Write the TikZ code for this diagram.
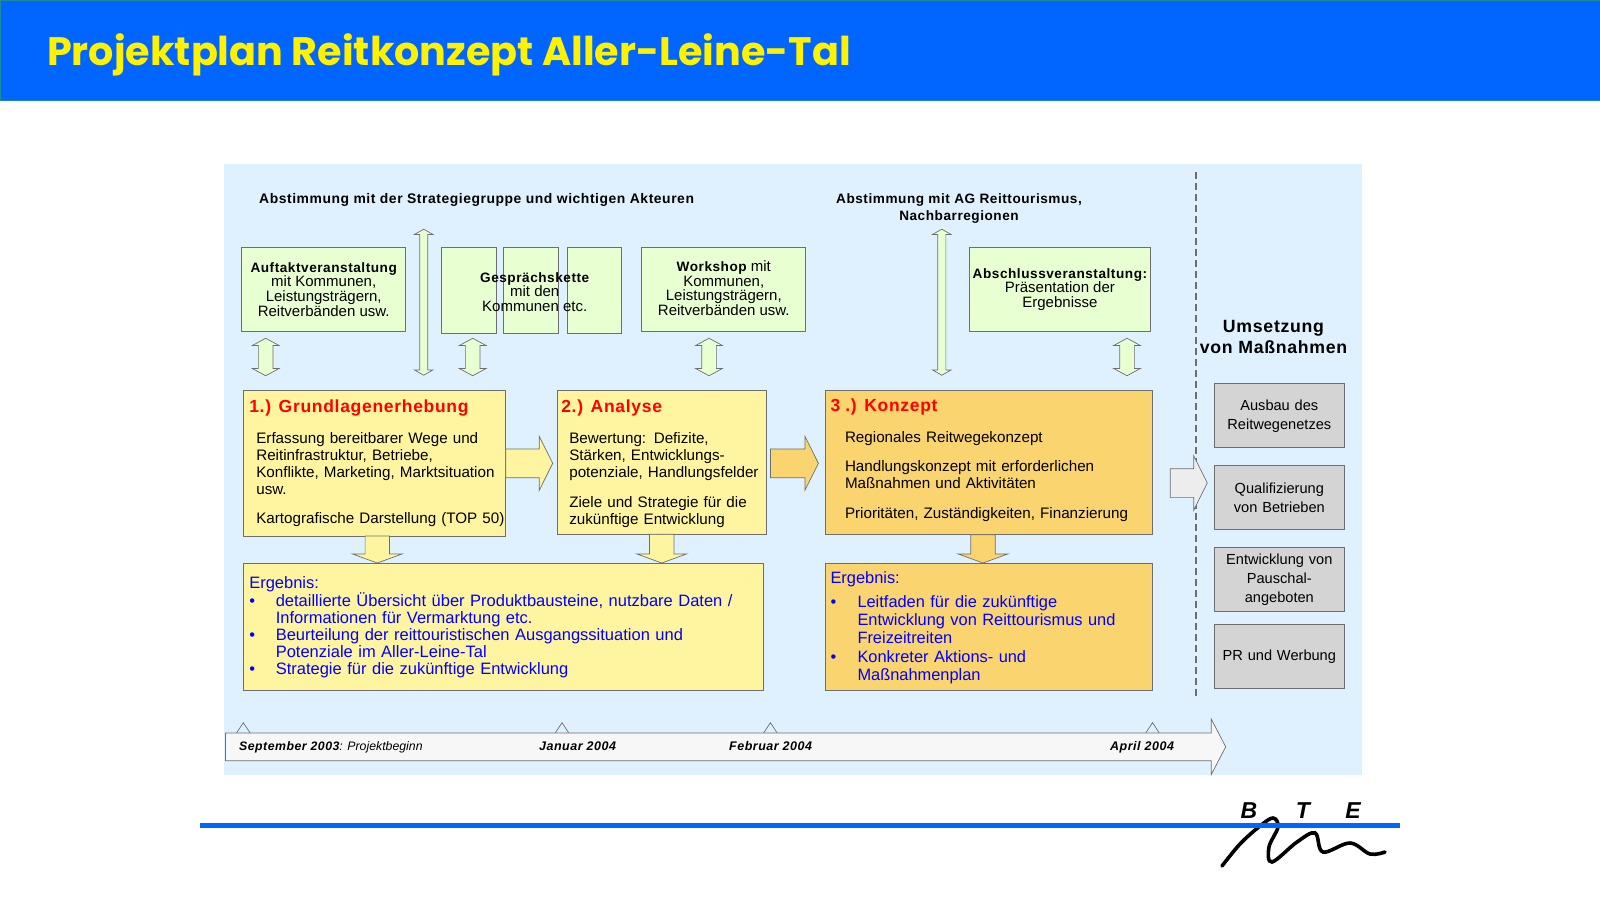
\documentclass[tikz,border=0pt]{standalone}
\usepackage{fontspec}
\setmainfont{Liberation Sans}[BoldFeatures={LetterSpace=4},BoldItalicFeatures={LetterSpace=4}]
\newfontfamily\titelfont{Poppins}
\usetikzlibrary{shapes.arrows, arrows.meta, positioning, calc}
\definecolor{colorKopf}{HTML}{0066FF}
\definecolor{colorKante}{HTML}{1E8C96}
\definecolor{colorFlaeche}{HTML}{DFF1FF}
\definecolor{colorGruen}{HTML}{E8FFD2}
\definecolor{colorGelb}{HTML}{FFF5A0}
\definecolor{colorOrange}{HTML}{FAD46E}
\definecolor{colorGrau}{HTML}{D4D4D4}
\definecolor{colorRand}{HTML}{6E6E6E}
\newcommand{\fs}[2]{\fontsize{#1}{#2}\selectfont}
\newcommand{\titel}[2]{\hspace*{#1}{\fs{17.5}{17}\bfseries\color{red}#2}}
\newcommand{\fett}[1]{{\fs{13.6}{14.8}\bfseries #1}}
\newcommand{\punkt}[1]{\makebox[#1][l]{\textbullet}}

\begin{document}
\begin{tikzpicture}[x=1pt, y=-1pt,
        box/.style={draw=colorRand, line width=.8pt, outer sep=0pt, inner sep=0pt, anchor=north west},
        gruen/.style={box, fill=colorGruen, align=center, font=\fs{15}{14.8}},
        haupt/.style={box, align=left, font=\fs{15.2}{17}, execute at begin node={\leftskip=#1}},
        ergebnis/.style={box, align=left, font=\fs{16.5}{17}, text=blue, execute at begin node={\leftskip=#1}},
        grau/.style={box, fill=colorGrau, align=center, text width=130pt, minimum height=64pt, font=\fs{14.6}{19},
            execute at begin node={\rule{0pt}{12pt}}},
        kopf/.style={font=\fs{13.6}{17}\bfseries, align=center, inner sep=0pt},
        datum/.style={font=\fs{12.5}{15}\bfseries\itshape, anchor=base west, inner sep=0pt},
        pfeil/.style={single arrow, draw=colorRand, line width=.7pt, outer sep=0pt, inner xsep=0pt, inner ysep=14pt, anchor=tail,
            single arrow head extend=12.7pt, single arrow tip angle=127},
        runter/.style={pfeil, rotate=-90, inner ysep=11.85pt, single arrow head extend=12.65pt, single arrow tip angle=140},
        doppel/.style={double arrow, draw=colorRand, line width=.7pt, outer sep=0pt, inner xsep=0pt, inner ysep=7pt, fill=colorGruen, rotate=90,
            minimum height=37.5pt, double arrow head extend=5.85pt, double arrow tip angle=123},
        hoch/.style={doppel, minimum height=146pt, inner ysep=3.7pt, double arrow head extend=5.15pt, double arrow tip angle=121}
    ]
    \useasboundingbox (0,0) rectangle (1600,900);
    \fill[colorKopf] (0,0) rectangle (1600,100);
    \draw[colorKante, line width=1pt] (0.5,100) -- (0.5,0.5) -- (1599.5,0.5);
    \draw[colorKante, line width=1pt] (0,100.3) -- (1600,100.3);
    \node[anchor=west, text=yellow, font=\titelfont\fs{39.7}{40}\bfseries, inner sep=0pt] (titel) at (47,55) {Projektplan Reitkonzept Aller-Leine-Tal};
    \fill[colorFlaeche] (223.5,164) rectangle (1362,775);

    \node[kopf, anchor=west, font=\fs{13.9}{17}\bfseries] (abst1) at (259,200) {Abstimmung mit der Strategiegruppe und wichtigen Akteuren};
    \node[kopf] (abst2) at (959,209) {Abstimmung mit AG Reittourismus,\\Nachbarregionen};
    \node[font=\fs{17.7}{21.5}\bfseries, align=center, inner sep=0pt] (umsetzung) at (1273.5,337) {Umsetzung\\von Maßnahmen};

    % obere Reihe
    \node[gruen, minimum width=164pt, minimum height=84pt] (auftakt) at (241.7,247.5) {\fett{Auftaktveranstaltung}\\mit Kommunen,\\Leistungsträgern,\\Reitverbänden usw.};
    \node[gruen, minimum width=55.4pt, minimum height=86pt] (gespr1) at (441.3,247.5) {};
    \node[gruen, minimum width=55.4pt, minimum height=86pt] (gespr2) at (503.3,247.5) {};
    \node[gruen, minimum width=54.4pt, minimum height=86pt] (gespr3) at (567.3,247.5) {};
    \node[font=\fs{15}{14.8}, align=center] (gespraech) at (534.7,292) {\fett{Gesprächskette}\\mit den\\Kommunen etc.};
    \node[gruen, minimum width=164pt, minimum height=84pt, text depth=3pt] (workshop) at (641.8,247.5) {\fett{Workshop} mit\\Kommunen,\\Leistungsträgern,\\Reitverbänden usw.};
    \node[gruen, minimum width=181pt, minimum height=84pt] (abschluss) at (969.4,247.5) {\fett{Abschlussveranstaltung:}\\Präsentation der\\Ergebnisse};

    % Hauptkaesten
    \node[haupt=13pt, fill=colorGelb, minimum height=145.7pt, text width=262.4pt] (grund) at (243.3,390.3)
        {\titel{-7pt}{1.) Grundlagenerhebung}\\[14pt]Erfassung bereitbarer Wege und\\Reitinfrastruktur, Betriebe,\\Konflikte, Marketing, Marktsituation\\usw.\\[12.5pt]Kartografische Darstellung (TOP 50)};
    \node[haupt=12pt, fill=colorGelb, minimum height=144pt, text width=209pt] (analyse) at (557.3,390.3)
        {\rule{0pt}{16pt}\titel{-8pt}{2.) Analyse}\\[14pt]Bewertung: Defizite,\\Stärken, Entwicklungs-\\potenziale, Handlungsfelder\\[12.5pt]Ziele und Strategie für die\\zukünftige Entwicklung};
    \node[haupt=19.5pt, fill=colorOrange, minimum height=144.4pt, text width=327pt] (konzept) at (825.5,390.3)
        {\titel{-14.5pt}{3 .) Konzept}\\[14pt]Regionales Reitwegekonzept\\[12.5pt]Handlungskonzept mit erforderlichen\\Maßnahmen und Aktivitäten\\[12.5pt]Prioritäten, Zuständigkeiten, Finanzierung\rule[-8pt]{0pt}{8pt}};

    % Ergebnisse
    \node[ergebnis=6pt, fill=colorGelb, minimum height=127.8pt, text width=520pt] (erg1) at (243.3,563)
        {Ergebnis:\\\punkt{26.5pt}detaillierte Übersicht über Produktbausteine, nutzbare Daten /\\\hspace*{26.5pt}Informationen für Vermarktung etc.\\\punkt{26.5pt}Beurteilung der reittouristischen Ausgangssituation und\\\hspace*{26.5pt}Potenziale im Aller-Leine-Tal\\\punkt{26.5pt}Strategie für die zukünftige Entwicklung};
    \node[ergebnis=5pt, fill=colorOrange, minimum height=127.8pt, text width=327pt, font=\fs{16.4}{18.4}] (erg3) at (825.5,563)
        {\rule{0pt}{14pt}Ergebnis:\\[5pt]\punkt{27pt}Leitfaden für die zukünftige\\\hspace*{27pt}Entwicklung von Reittourismus und\\\hspace*{27pt}Freizeitreiten\\\punkt{27pt}Konkreter Aktions- und\\\hspace*{27pt}Maßnahmenplan};

    % Umsetzung
    \node[grau] (ausbau) at (1214.3,383.3) {Ausbau des\\Reitwegenetzes};
    \node[grau] (quali) at (1214.3,465.3) {Qualifizierung\\von Betrieben};
    \node[grau] (pauschal) at (1214.3,547) {Entwicklung von\\Pauschal-\\angeboten};
    \node[grau] (werbung) at (1214.3,624.5) {PR und Werbung};
    \coordinate (strichOben) at (1196,172);
    \coordinate (strichUnten) at (1196,697);
    \draw[colorRand, line width=1.3pt, dash pattern=on 7pt off 4pt] (strichOben) -- (strichUnten);

    % Pfeile
    \node[doppel] (d1) at (265.7,357) {};
    \node[hoch] (h1) at (423.7,302.2) {};
    \node[doppel] (d2) at (472.7,357) {};
    \node[doppel] (d3) at (709,357) {};
    \node[hoch] (h2) at (941.8,302.2) {};
    \node[doppel] (d4) at (1127,357) {};
    \node[pfeil, fill=colorGelb, minimum height=47pt] (p1) at (505.7,463.3) {};
    \node[pfeil, fill=colorOrange, minimum height=48pt] (p2) at (770.4,463.3) {};
    \node[pfeil, fill=black!7, minimum height=37pt] (p3) at (1170.3,483) {};
    \node[runter, fill=colorGelb, minimum height=27pt] (r1) at (377.3,536) {};
    \node[runter, fill=colorGelb, minimum height=28.7pt] (r2) at (661.7,534.3) {};
    \node[runter, fill=colorOrange, minimum height=28.3pt] (r3) at (983,534.7) {};

    % Zeitleiste
    \foreach \tx in {243.3,562,770.4,1152.5}
        \draw[colorRand, line width=.7pt] (\tx-7,733.3) -- (\tx,722.7) -- (\tx+7,733.3);
    \node[pfeil, fill=black!3, minimum height=1000.2pt, inner ysep=13.5pt, single arrow head extend=14pt, single arrow tip angle=125] (zeit) at (225.5,746.8) {};
    \node[datum, font=\fs{12.3}{15}\bfseries\itshape] (sep) at (239,750.5) {September 2003\textmd{: Projektbeginn}};
    \node[datum] (jan) at (539,750.5) {Januar 2004};
    \node[datum] (feb) at (729,750.5) {Februar 2004};
    \node[datum] (apr) at (1110,750.5) {April 2004};

    % Logo
    \draw[black, line width=3.6pt, line cap=round] plot[smooth, tension=.6] coordinates {(1222,866) (1240,844) (1260,826) (1273,818) (1278,827) (1269,847) (1272,862) (1297,842) (1315,833) (1323,852) (1350,843) (1370,854) (1385,852)};
    \draw[colorKopf, line width=5pt] (200,825) -- (1400,825);
    \node[font=\fs{23}{23}\bfseries\itshape, inner sep=0pt] (logoB) at (1249,811) {B};
    \node[font=\fs{23}{23}\bfseries\itshape, inner sep=0pt] (logoT) at (1303,811) {T};
    \node[font=\fs{23}{23}\bfseries\itshape, inner sep=0pt] (logoE) at (1353,811) {E};
\end{tikzpicture}
\end{document}
